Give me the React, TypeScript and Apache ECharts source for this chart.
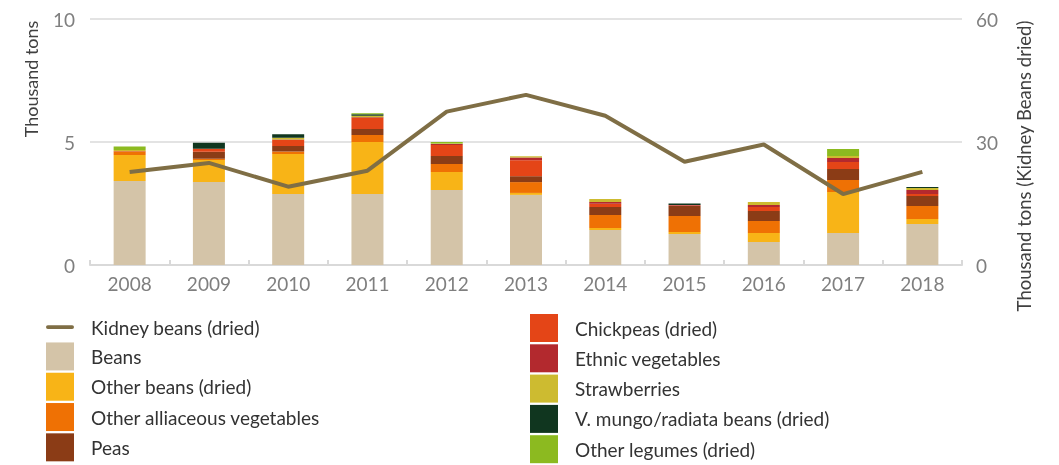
import React, { useEffect, useRef } from "react";
import * as echarts from "echarts";

const years = ["2008", "2009", "2010", "2011", "2012", "2013", "2014", "2015", "2016", "2017", "2018"];

const kidneyBeans = [22.7, 24.9, 19.1, 23.0, 37.4, 41.5, 36.4, 25.2, 29.4, 17.3, 22.7];
const beans = [3.41, 3.37, 2.89, 2.89, 3.05, 2.85, 1.42, 1.26, 0.93, 1.3, 1.67];
const otherBeans = [1.06, 0.9, 1.62, 2.11, 0.73, 0.08, 0.08, 0.08, 0.37, 1.67, 0.2];
const otherAlliaceous = [0.12, 0.05, 0.1, 0.28, 0.33, 0.44, 0.53, 0.65, 0.49, 0.49, 0.53];
const peas = [0, 0.28, 0.23, 0.25, 0.32, 0.24, 0.33, 0.41, 0.41, 0.44, 0.4];
const chickpeas = [0.03, 0.13, 0.24, 0.45, 0.45, 0.65, 0.13, 0.02, 0.16, 0.29, 0.09];
const ethnicVegetables = [0, 0, 0.02, 0.03, 0.04, 0.11, 0.07, 0.02, 0.08, 0.16, 0.16];
const strawberries = [0.05, 0, 0.07, 0.06, 0.02, 0.05, 0.12, 0, 0.12, 0.08, 0.08];
const vMungo = [0, 0.24, 0.15, 0.06, 0, 0, 0, 0.06, 0, 0, 0.04];
const otherLegumes = [0.15, 0, 0, 0.04, 0.06, 0, 0, 0, 0, 0.29, 0];

const leftTicks = { min: 0, max: 10, interval: 5 };
const rightTicks = { min: 0, max: 60, interval: 30 };

const barSeries = [
  { name: "Beans", data: beans, color: "#d4c4a8" },
  { name: "Other beans (dried)", data: otherBeans, color: "#f8b417" },
  { name: "Other alliaceous vegetables", data: otherAlliaceous, color: "#ef7104" },
  { name: "Peas", data: peas, color: "#8b3c16" },
  { name: "Chickpeas (dried)", data: chickpeas, color: "#e44517" },
  { name: "Ethnic vegetables", data: ethnicVegetables, color: "#b3292e" },
  { name: "Strawberries", data: strawberries, color: "#cdbb30" },
  { name: "V. mungo/radiata beans (dried)", data: vMungo, color: "#10361f" },
  { name: "Other legumes (dried)", data: otherLegumes, color: "#8cba20" },
];

const FONT = "Lato";

export default function App() {
  const ref = useRef<HTMLDivElement>(null);
  useEffect(() => {
    if (!ref.current) return;
    const chart = echarts.init(ref.current, null, { renderer: "svg" });
    const legendText = {
      fontFamily: FONT,
      fontSize: 19,
      color: "#333333",
      padding: [0, 0, 0, 12],
    };
    const legendCommon = {
      orient: "vertical",
      top: 314,
      height: 160,
      itemWidth: 28,
      itemHeight: 28,
      itemGap: 2.3,
      symbolKeepAspect: true,
      textStyle: legendText,
      selectedMode: false,
      padding: 0,
    };
    const lineIcon =
      "path://M0,0h0.01v0.01h-0.01z M1,12H27A2,2 0 0 1 27,16H1A2,2 0 0 1 1,12Z M27.99,27.99h0.01v0.01h-0.01z";
    const option: any = {
      animation: false,
      textStyle: { fontFamily: FONT },
      grid: { left: 90, right: 97, top: 19, bottom: 200, containLabel: false },
      legend: [
        {
          ...legendCommon,
          left: 46,
          data: [
            { name: "Kidney beans (dried)", icon: lineIcon },
            { name: "Beans", icon: "rect" },
            { name: "Other beans (dried)", icon: "rect" },
            { name: "Other alliaceous vegetables", icon: "rect" },
            { name: "Peas", icon: "rect" },
          ],
        },
        {
          ...legendCommon,
          left: 530,
          data: [
            { name: "Chickpeas (dried)", icon: "rect" },
            { name: "Ethnic vegetables", icon: "rect" },
            { name: "Strawberries", icon: "rect" },
            { name: "V. mungo/radiata beans (dried)", icon: "rect" },
            { name: "Other legumes (dried)", icon: "rect" },
          ],
        },
      ],
      xAxis: {
        type: "category",
        data: years,
        boundaryGap: true,
        axisLine: { lineStyle: { color: "#d9d9d9", width: 2 } },
        axisTick: { show: true, inside: true, length: 5, lineStyle: { color: "#d9d9d9", width: 2 } },
        axisLabel: { color: "#7f7f7f", fontSize: 19, fontFamily: FONT, margin: 9 },
      },
      yAxis: [
        {
          type: "value",
          ...leftTicks,
          name: "Thousand tons",
          nameLocation: "middle",
          nameGap: 50,
          nameTextStyle: { color: "#404040", fontSize: 18, fontFamily: FONT, padding: [0, 0, 0, 126] },
          axisLine: { show: false },
          axisTick: { show: false },
          axisLabel: { color: "#7f7f7f", fontSize: 19, fontFamily: FONT, margin: 15 },
          splitLine: { lineStyle: { color: "#e3e3e3", width: 2 } },
        },
        {
          type: "value",
          ...rightTicks,
          position: "right",
          name: "Thousand tons (Kidney Beans dried)",
          nameLocation: "middle",
          nameGap: 52,
          nameTextStyle: { color: "#404040", fontSize: 18.5, fontFamily: FONT, padding: [0, 48, 0, 0] },
          axisLine: { show: false },
          axisTick: { show: false },
          axisLabel: { color: "#7f7f7f", fontSize: 19, fontFamily: FONT, margin: 14 },
          splitLine: { show: false },
        },
      ],
      series: [
        ...barSeries.map((s) => ({
          name: s.name,
          type: "bar",
          stack: "total",
          barWidth: 32,
          data: s.data,
          itemStyle: { color: s.color },
          yAxisIndex: 0,
        })),
        {
          name: "Kidney beans (dried)",
          type: "line",
          yAxisIndex: 1,
          data: kidneyBeans,
          symbol: "none",
          z: 5,
          lineStyle: { color: "#7f6e45", width: 4 },
          itemStyle: { color: "#7f6e45" },
        },
      ],
    };
    chart.setOption(option);
    return () => chart.dispose();
  }, []);
  return (
    <div
      ref={ref}
      style={{ position: "fixed", left: 0, top: 0, width: 1059, height: 465 }}
    />
  );
}
